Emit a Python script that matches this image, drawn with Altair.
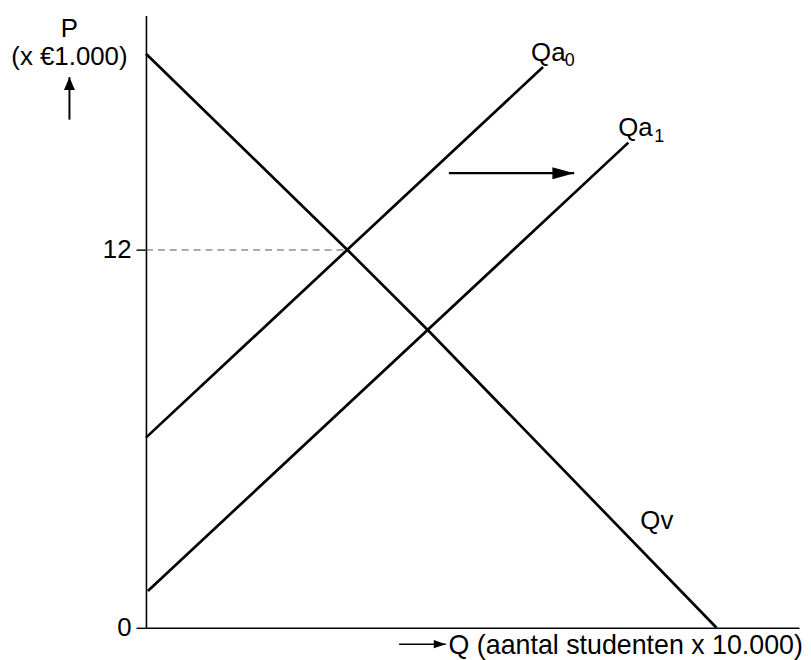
import altair as alt
import pandas as pd

# ---- data (Q in units of the horizontal axis, P in x €1.000) ----
qv_q = [0.0, 6.40, 8.95, 18.12]
qv_p = [18.23, 12.0, 9.46, 0.0]
qa0_q = [0.0, 12.61]
qa0_p = [6.04, 17.81]
qa1_q = [0.06, 15.32]
qa1_p = [1.17, 15.41]

price_ticks = [0, 12]
eq_q = 6.40
eq_p = 12.0

shift_q = [9.62, 13.60]      # shift arrow from Qa0 to Qa1
shift_p = 14.44

p_arrow_q = -2.43            # vertical arrow next to P-label
p_arrow_p = [16.14, 17.49]
q_arrow_q = [8.04, 9.52]     # horizontal arrow before Q-label
q_arrow_p = -0.52

label_left_text = ["Qa", "0", "Qa", "1", "Qv", "Q (aantal studenten x 10.000)"]
label_left_q = [12.23, 13.30, 15.00, 16.14, 15.70, 9.61]
label_left_p = [17.99, 17.84, 15.63, 15.43, 3.15, -0.82]
label_left_size = [26, 18, 26, 18, 26, 27]

label_center_text = ["P", "(x €1.000)"]
label_center_q = [-2.43, -2.43]
label_center_p = [18.76, 17.87]

Q_MAX = 20.74
P_MAX = 19.45

# ---- tables ----
rows = []
for name, qs, ps in [("Qv", qv_q, qv_p), ("Qa0", qa0_q, qa0_p), ("Qa1", qa1_q, qa1_p)]:
    for i, (q, p) in enumerate(zip(qs, ps)):
        rows.append({"curve": name, "i": i, "q": q, "p": p})
curves = pd.DataFrame(rows)

xs = alt.Scale(domain=[0, Q_MAX], nice=False, zero=False)
ys = alt.Scale(domain=[0, P_MAX], nice=False, zero=False)

FONT = "Liberation Sans"

base_axes = alt.Chart(pd.DataFrame({"q": [0.0], "p": [0.0]})).mark_point(opacity=0).encode(
    x=alt.X("q:Q", scale=xs, axis=alt.Axis(title=None, labels=False, ticks=False, grid=False,
                                          domainColor="black", domainWidth=1.6)),
    y=alt.Y("p:Q", scale=ys, axis=alt.Axis(title=None, values=price_ticks, grid=False,
                                          domainColor="black", domainWidth=1.6,
                                          tickColor="black", tickWidth=1.4, tickSize=10,
                                          labelFont=FONT, labelFontSize=26, labelColor="black",
                                          labelPadding=5)),
)

lines = alt.Chart(curves).mark_line(color="black", strokeWidth=2.7).encode(
    x=alt.X("q:Q", scale=xs), y=alt.Y("p:Q", scale=ys), detail="curve:N", order="i:Q"
)

dash = alt.Chart(pd.DataFrame({"q": [0.0], "q2": [eq_q], "p": [eq_p]})).mark_rule(
    color="#555555", strokeWidth=1, strokeDash=[7, 5]
).encode(x=alt.X("q:Q", scale=xs), x2="q2:Q", y=alt.Y("p:Q", scale=ys))

arrows_h = pd.DataFrame({
    "q": [shift_q[0], q_arrow_q[0]], "q2": [shift_q[1], q_arrow_q[1]],
    "p": [shift_p, q_arrow_p], "w": [2.2, 1.6]})
arrow_lines = alt.Chart(arrows_h).mark_rule(color="black").encode(
    x=alt.X("q:Q", scale=xs), x2="q2:Q", y=alt.Y("p:Q", scale=ys),
    strokeWidth=alt.StrokeWidth("w:Q", scale=None))

arrow_v = alt.Chart(pd.DataFrame({"q": [p_arrow_q], "p": [p_arrow_p[0]], "p2": [p_arrow_p[1]]})).mark_rule(
    color="black", strokeWidth=2
).encode(x=alt.X("q:Q", scale=xs), y=alt.Y("p:Q", scale=ys), y2="p2:Q")

head_main = alt.Chart(pd.DataFrame({"q": [shift_q[1]], "p": [shift_p]})).mark_point(
    shape="M0,0L-2,-0.55L-2,0.55Z", size=484, filled=True, color="black", opacity=1, strokeWidth=0
).encode(x=alt.X("q:Q", scale=xs), y=alt.Y("p:Q", scale=ys))

head_small = alt.Chart(pd.DataFrame({"q": [q_arrow_q[1]], "p": [q_arrow_p]})).mark_point(
    shape="M0,0L-2,-0.7L-2,0.7Z", size=144, filled=True, color="black", opacity=1, strokeWidth=0
).encode(x=alt.X("q:Q", scale=xs), y=alt.Y("p:Q", scale=ys))

head_up = alt.Chart(pd.DataFrame({"q": [p_arrow_q], "p": [p_arrow_p[1]]})).mark_point(
    shape="M0,0L-0.85,2L0.85,2Z", size=169, filled=True, color="black", opacity=1, strokeWidth=0
).encode(x=alt.X("q:Q", scale=xs), y=alt.Y("p:Q", scale=ys))

left_df = pd.DataFrame({"t": label_left_text, "q": label_left_q, "p": label_left_p, "s": label_left_size})
left_text = alt.Chart(left_df).mark_text(
    align="left", baseline="alphabetic", font=FONT, color="black"
).encode(x=alt.X("q:Q", scale=xs), y=alt.Y("p:Q", scale=ys), text="t:N",
         size=alt.Size("s:Q", scale=None))

center_df = pd.DataFrame({"t": label_center_text, "q": label_center_q, "p": label_center_p})
center_text = alt.Chart(center_df).mark_text(
    align="center", baseline="alphabetic", font=FONT, color="black", fontSize=26
).encode(x=alt.X("q:Q", scale=xs), y=alt.Y("p:Q", scale=ys), text="t:N")

chart = alt.layer(
    base_axes, dash, lines, arrow_lines, arrow_v, head_main, head_small, head_up, left_text, center_text
).properties(
    width=658, height=617,
    autosize=alt.AutoSizeParams(type="none"),
    padding={"left": 139, "top": 5, "right": 4, "bottom": 34},
    background="white",
).configure_view(stroke=None)

chart.save("out.html", embed_options={"renderer": "svg", "actions": False})
